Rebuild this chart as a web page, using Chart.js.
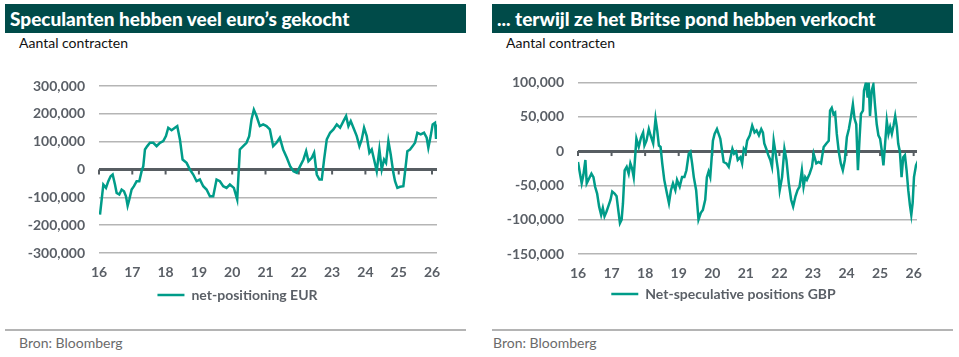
<!DOCTYPE html>
<html>
<head>
<meta charset="utf-8">
<script src="https://cdn.jsdelivr.net/npm/chart.js@4.4.1/dist/chart.umd.min.js"></script>
<style>
  html, body { margin: 0; padding: 0; background: #fff; }
  body { width: 959px; height: 357px; position: relative; overflow: hidden; font-family: Lato, "Open Sans", sans-serif; }
  .bar { position: absolute; top: 4px; height: 29px; background: #004b49; color: #fff; font-weight: 900; font-size: 19px; line-height: 29px; padding-left: 5px; box-sizing: border-box; white-space: nowrap; }
  .sub { position: absolute; top: 34px; font-size: 14px; color: #111; }
  .sep { position: absolute; top: 329px; height: 2px; background: #b4b4b4; }
  .src { position: absolute; top: 334px; font-size: 14px; color: #6b6b6b; }
  .cv { position: absolute; top: 60px; width: 461px; height: 255px; }
</style>
</head>
<body>
<div class="bar" style="left:5px;width:461px;">Speculanten hebben veel euro’s gekocht</div>
<div class="sub" style="left:19px;">Aantal contracten</div>
<div class="cv" style="left:5px;"><canvas id="c1"></canvas></div>
<div class="sep" style="left:5px;width:461px;"></div>
<div class="src" style="left:19px;">Bron: Bloomberg</div>

<div class="bar" style="left:492px;width:461px;">... terwijl ze het Britse pond hebben verkocht</div>
<div class="sub" style="left:506px;">Aantal contracten</div>
<div class="cv" style="left:492px;"><canvas id="c2"></canvas></div>
<div class="sep" style="left:492px;width:461px;"></div>
<div class="src" style="left:493px;">Bron: Bloomberg</div>

<script>
// ---- data ----
const eurYears = [16.03,16.08,16.13,16.21,16.28,16.35,16.41,16.48,16.53,16.61,16.68,16.75,16.81,16.86,16.91,16.98,17.05,17.13,17.21,17.28,17.33,17.38,17.45,17.53,17.63,17.73,17.83,17.93,18.01,18.08,18.18,18.28,18.35,18.43,18.51,18.63,18.73,18.83,18.93,19.03,19.13,19.23,19.33,19.43,19.53,19.63,19.73,19.83,19.93,20.05,20.15,20.23,20.33,20.43,20.51,20.58,20.65,20.73,20.83,20.93,21.03,21.13,21.23,21.33,21.43,21.53,21.64,21.74,21.84,21.94,22.04,22.14,22.22,22.29,22.39,22.46,22.54,22.62,22.69,22.76,22.84,22.94,23.04,23.14,23.24,23.34,23.42,23.49,23.56,23.64,23.74,23.82,23.89,23.96,24.04,24.12,24.19,24.26,24.34,24.42,24.49,24.56,24.62,24.69,24.76,24.84,24.89,24.96,25.04,25.14,25.21,25.26,25.34,25.42,25.49,25.56,25.66,25.76,25.84,25.89,25.96,26.02,26.09,26.12,26.14];
const eurValues = [-162000,-108000,-54000,-66000,-42000,-24000,-18000,-54000,-84000,-90000,-72000,-78000,-96000,-130000,-108000,-72000,-60000,-42000,-42000,-6000,12000,72000,84000,96000,96000,84000,96000,102000,120000,150000,141000,150000,156000,108000,36000,24000,0,-18000,-42000,-36000,-60000,-72000,-96000,-96000,-36000,-42000,-60000,-66000,-54000,-66000,-108000,72000,84000,96000,120000,180000,215000,192000,156000,162000,156000,144000,84000,96000,114000,72000,42000,12000,-6000,-12000,12000,36000,66000,30000,42000,60000,-18000,-36000,-36000,36000,108000,132000,144000,162000,150000,174000,192000,156000,174000,150000,120000,84000,108000,150000,120000,60000,72000,36000,-6000,72000,0,36000,24000,102000,54000,-12000,-42000,-66000,-62000,-60000,12000,66000,72000,84000,96000,132000,126000,132000,114000,78000,120000,162000,168000,114000,162000];

const gbpYears = [16.00,16.06,16.11,16.16,16.22,16.26,16.33,16.40,16.46,16.51,16.57,16.63,16.69,16.74,16.79,16.85,16.90,16.97,17.02,17.09,17.15,17.20,17.25,17.30,17.34,17.39,17.45,17.51,17.56,17.61,17.66,17.74,17.81,17.88,17.94,17.98,18.04,18.11,18.16,18.24,18.31,18.36,18.41,18.46,18.51,18.57,18.65,18.71,18.77,18.83,18.90,18.95,19.03,19.10,19.17,19.23,19.30,19.35,19.40,19.45,19.52,19.59,19.66,19.72,19.79,19.84,19.89,19.94,20.02,20.07,20.14,20.19,20.24,20.34,20.42,20.49,20.53,20.60,20.65,20.71,20.76,20.84,20.89,20.94,20.99,21.04,21.12,21.19,21.26,21.32,21.39,21.46,21.51,21.55,21.61,21.67,21.73,21.78,21.83,21.88,21.93,21.96,22.01,22.08,22.15,22.21,22.28,22.35,22.41,22.48,22.54,22.60,22.67,22.72,22.77,22.82,22.90,22.97,23.02,23.10,23.17,23.24,23.32,23.40,23.47,23.51,23.56,23.61,23.66,23.71,23.77,23.83,23.89,23.95,24.01,24.07,24.13,24.19,24.24,24.29,24.34,24.39,24.43,24.49,24.52,24.58,24.63,24.66,24.70,24.75,24.80,24.85,24.90,24.95,25.00,25.05,25.10,25.15,25.20,25.25,25.30,25.35,25.40,25.45,25.50,25.54,25.59,25.64,25.69,25.74,25.79,25.84,25.89,25.93,25.97,26.01,26.07,26.14];
const gbpValues = [-16000,-33000,-47000,-35000,-13000,-47000,-40000,-33000,-38000,-52000,-62000,-81000,-93000,-83000,-95000,-88000,-81000,-71000,-59000,-62000,-66000,-86000,-105000,-100000,-76000,-28000,-23000,-33000,-18000,-25000,-38000,18000,6000,20000,27000,8000,15000,32000,23000,11000,47000,30000,8000,6000,-18000,-42000,-62000,-76000,-57000,-47000,-57000,-42000,-52000,-38000,-38000,-28000,-4000,-1000,-18000,-38000,-57000,-100000,-90000,-86000,-71000,-38000,-30000,-38000,15000,25000,32000,25000,18000,-16000,-18000,-23000,-13000,3000,-4000,-1000,-13000,-9000,-18000,3000,-1000,15000,23000,37000,27000,30000,23000,32000,27000,11000,3000,-6000,-13000,-23000,15000,-1000,-18000,-28000,-57000,-38000,3000,-13000,-47000,-71000,-81000,-66000,-57000,-52000,-28000,-52000,-38000,-42000,-33000,-23000,-4000,-18000,-16000,-18000,6000,11000,15000,59000,63000,54000,56000,25000,-1000,-18000,-28000,-13000,20000,32000,49000,68000,47000,39000,-28000,20000,54000,59000,88000,100000,78000,100000,51000,88000,97000,66000,39000,23000,18000,1000,-21000,11000,44000,25000,35000,25000,37000,51000,35000,11000,-1000,-38000,-9000,-6000,-28000,-57000,-79000,-93000,-76000,-38000,-21000,-13000];

const xTickLabels = ['16','17','18','19','20','21','22','23','24','25','26'];
const eurYTicks = [-300000,-200000,-100000,0,100000,200000,300000];
const gbpYTicks = [-150000,-100000,-50000,0,50000,100000];
const eurLabel = 'net-positioning EUR';
const gbpLabel = 'Net-speculative positions GBP';

// ---- styling ----
const TEAL = '#009c89';
const ZERO = '#575d62';
const GRID = '#b5b5b5';
const TICKC = '#5a5f66';
const FONT = 'Lato, "Open Sans", sans-serif';

const zeroTicks = {
  id: 'zeroTicks',
  beforeDatasetsDraw(chart) {
    const {ctx, scales: {x, y}} = chart;
    const y0 = y.getPixelForValue(0);
    ctx.save();
    ctx.strokeStyle = ZERO;
    ctx.lineWidth = 2;
    x.ticks.forEach(t => {
      const px = x.getPixelForValue(t.value);
      ctx.beginPath();
      ctx.moveTo(px, y0);
      ctx.lineTo(px, y0 + 5);
      ctx.stroke();
    });
    ctx.restore();
  }
};

function makeChart(id, years, values, label, yTicks, xmax, pad, yWidth, rightWidth, xHeight) {
  const pts = years.map((yr, i) => ({x: yr, y: values[i]}));
  return new Chart(document.getElementById(id), {
    type: 'line',
    data: { datasets: [{ label, data: pts, borderColor: TEAL, backgroundColor: TEAL, borderWidth: 2.5, pointRadius: 0, tension: 0, fill: false }] },
    options: {
      responsive: true, maintainAspectRatio: false, animation: false,
      layout: { padding: pad },
      plugins: {
        tooltip: { enabled: false },
        legend: {
          position: 'bottom',
          labels: { usePointStyle: true, pointStyle: 'line', pointStyleWidth: 27, boxHeight: 3, padding: 6, color: TICKC, font: { family: FONT, size: 14, weight: 'bold' } }
        }
      },
      scales: {
        x: {
          type: 'linear', min: 16, max: xmax,
          afterFit(s) { s.height = xHeight; },
          afterBuildTicks(s) { s.ticks = xTickLabels.map(v => ({value: +v})); },
          grid: { display: false, drawTicks: false },
          border: { display: false },
          ticks: { padding: 11, color: TICKC, font: { family: FONT, size: 14, weight: 'bold' }, maxRotation: 0, autoSkip: false,
                   callback: v => xTickLabels.includes(String(v)) ? String(v) : '' }
        },
        y: {
          min: yTicks[0], max: yTicks[yTicks.length - 1],
          afterFit(s) { s.width = yWidth; },
          afterBuildTicks(s) { s.ticks = yTicks.map(v => ({value: v})); },
          border: { display: false },
          grid: { drawTicks: false,
                  color: c => c.tick && c.tick.value === 0 ? ZERO : GRID,
                  lineWidth: c => c.tick && c.tick.value === 0 ? 3 : 1.5 },
          ticks: { padding: 14, color: TICKC, font: { family: FONT, size: 14, weight: 'bold' },
                   callback: v => v.toLocaleString('en-US') }
        },
        yRight: {
          position: 'right', min: 0, max: 1,
          afterFit(s) { s.width = rightWidth; },
          grid: { display: false, drawTicks: false },
          border: { display: false },
          ticks: { display: false }
        }
      }
    },
    plugins: [zeroTicks]
  });
}

makeChart('c1', eurYears, eurValues, eurLabel, eurYTicks, 26.15, {top: 26, right: 0, bottom: 3, left: 4}, 90, 29, 29);
makeChart('c2', gbpYears, gbpValues, gbpLabel, gbpYTicks, 26.1, {top: 20, right: 0, bottom: 4, left: 2}, 84, 36, 27);
</script>
</body>
</html>
